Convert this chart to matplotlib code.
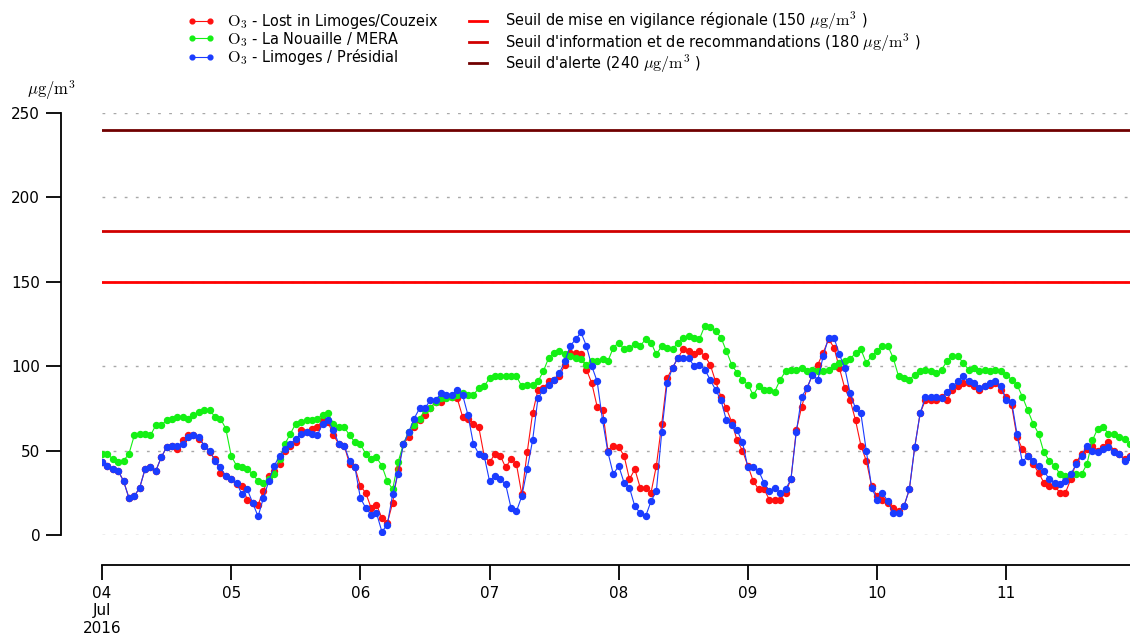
#!/usr/bin/env python3
"""Hourly O3 concentrations around Limoges, 4-11 July 2016, with alert thresholds."""

import matplotlib

matplotlib.use("Agg")
import matplotlib.dates as mdates
import matplotlib.pyplot as plt
import pandas as pd

START = "2016-07-04 00:00"
N_HOURS = 192

# hourly values (µg/m3), one row per day
lost_limoges = [
    43, 41, 39, 38, 32, 22, 23, 28, 39, 40, 38, 46, 52, 53, 51, 56, 59, 59, 57, 53, 49, 45, 37, 35,
    33, 30, 29, 21, 19, 18, 26, 35, 38, 42, 50, 53, 55, 62, 61, 63, 64, 68, 67, 59, 54, 53, 42, 40,
    29, 25, 16, 18, 10, 7, 19, 39, 54, 58, 64, 68, 71, 75, 79, 79, 82, 82, 81, 70, 69, 66, 64, 47,
    43, 48, 47, 40, 45, 42, 24, 49, 72, 86, 87, 91, 92, 94, 101, 108, 108, 107, 98, 90, 76, 74, 50, 53,
    52, 47, 33, 39, 28, 28, 25, 41, 66, 93, 99, 105, 110, 109, 107, 109, 106, 101, 91, 82, 75, 67, 56, 50,
    41, 32, 27, 27, 21, 21, 21, 25, 33, 62, 76, 87, 95, 101, 108, 116, 111, 99, 87, 80, 68, 53, 44, 29,
    23, 21, 19, 16, 14, 17, 27, 52, 72, 80, 80, 80, 82, 80, 86, 88, 90, 90, 88, 86, 88, 89, 90, 86,
    82, 77, 58, 51, 47, 42, 37, 31, 29, 29, 25, 25, 33, 43, 48, 51, 53, 50, 52, 55, 50, 48, 45, 47,
]
la_nouaille = [
    48, 48, 45, 43, 44, 48, 59, 60, 60, 59, 65, 65, 68, 69, 70, 70, 69, 71, 73, 74, 74, 70, 69, 63,
    47, 41, 40, 39, 36, 32, 31, 33, 36, 45, 54, 60, 66, 67, 68, 68, 69, 71, 72, 66, 64, 64, 59, 55,
    54, 48, 45, 46, 41, 32, 27, 43, 54, 61, 65, 69, 74, 75, 79, 81, 81, 82, 83, 84, 83, 83, 87, 88,
    93, 94, 94, 94, 94, 94, 88, 89, 89, 91, 97, 105, 108, 109, 107, 106, 105, 104, 101, 103, 103, 104, 103, 111,
    114, 110, 111, 113, 112, 116, 114, 107, 112, 111, 110, 114, 117, 118, 117, 116, 124, 123, 121, 117, 109, 101, 96, 92,
    89, 83, 88, 86, 86, 85, 92, 97, 98, 98, 99, 97, 98, 97, 97, 98, 100, 102, 103, 104, 108, 110, 102, 106,
    109, 112, 112, 105, 94, 93, 92, 95, 97, 98, 97, 96, 98, 103, 106, 106, 102, 98, 99, 97, 98, 97, 98, 97,
    95, 92, 89, 82, 74, 66, 60, 49, 44, 41, 36, 35, 36, 36, 36, 42, 56, 63, 64, 60, 60, 58, 57, 54,
]
limoges_presidial = [
    43, 41, 39, 38, 32, 22, 23, 28, 39, 40, 38, 46, 52, 53, 53, 54, 58, 59, 58, 53, 50, 44, 40, 35,
    33, 31, 24, 27, 19, 11, 22, 32, 41, 47, 51, 54, 57, 60, 61, 60, 59, 66, 68, 62, 54, 53, 44, 40,
    22, 16, 12, 13, 2, 6, 24, 36, 54, 61, 69, 75, 75, 80, 80, 84, 83, 83, 86, 83, 71, 54, 48, 47,
    32, 35, 33, 30, 16, 14, 23, 39, 56, 81, 86, 89, 92, 96, 103, 112, 116, 120, 112, 100, 91, 68, 49, 36,
    41, 31, 28, 17, 13, 11, 20, 26, 61, 90, 99, 105, 105, 105, 100, 101, 98, 92, 86, 80, 68, 65, 62, 55,
    40, 40, 38, 31, 26, 28, 25, 27, 33, 61, 82, 87, 95, 92, 106, 117, 117, 107, 99, 84, 75, 72, 50, 28,
    21, 25, 20, 13, 13, 17, 27, 52, 72, 82, 82, 82, 81, 85, 88, 91, 94, 91, 90, 87, 88, 90, 91, 88,
    80, 79, 60, 43, 47, 44, 41, 38, 33, 31, 30, 32, 36, 42, 47, 53, 50, 49, 51, 52, 49, 48, 44, 46,
]

series_labels = [
    r"$\mathrm{O_3}$ - Lost in Limoges/Couzeix",
    r"$\mathrm{O_3}$ - La Nouaille / MERA",
    r"$\mathrm{O_3}$ - Limoges / Présidial",
]
series_colors = ["#ff1010", "#14f014", "#1a3cff"]

threshold_values = [150, 180, 240]
threshold_labels = [
    r"Seuil de mise en vigilance régionale (150 $\mu\mathrm{g/m}^3$ )",
    r"Seuil d'information et de recommandations (180 $\mu\mathrm{g/m}^3$ )",
    r"Seuil d'alerte (240 $\mu\mathrm{g/m}^3$ )",
]
threshold_colors = ["#ff0000", "#d00000", "#700000"]

y_ticks = [0, 50, 100, 150, 200, 250]
x_tick_labels = ["04\nJul\n2016", "05", "06", "07", "08", "09", "10", "11"]


def main() -> None:
    plt.rcParams["font.family"] = ["DejaVu Sans"]
    plt.rcParams["mathtext.fontset"] = "cm"

    times = pd.date_range(START, periods=N_HOURS, freq="h")
    days = pd.date_range(START, periods=len(x_tick_labels), freq="D")

    fig = plt.figure(figsize=(11.3, 6.33), dpi=100)
    ax = fig.add_axes([102 / 1130, 1 - 535 / 633, 1 - 102 / 1130, (535 - 113) / 633])

    for y in y_ticks:
        ax.axhline(y, color="#a8a8a8", lw=1.0, ls=(0, (2, 6)), zorder=0)

    thr_handles = []
    for v, lab, c in zip(threshold_values, threshold_labels, threshold_colors):
        (h,) = ax.plot([times[0], times[-1]], [v, v], color=c, lw=2, label=lab, zorder=1)
        thr_handles.append(h)

    ser_handles = []
    for vals, lab, c in zip([lost_limoges, la_nouaille, limoges_presidial], series_labels, series_colors):
        (h,) = ax.plot(times, vals, color=c, lw=0.8, marker="o", ms=4.3, mec=c, label=lab, zorder=2)
        ser_handles.append(h)

    ax.set_xlim(times[0], times[-1])
    ax.set_ylim(0, 250)
    ax.set_yticks(y_ticks)
    ax.set_xticks(days)
    ax.xaxis.set_major_formatter(mdates.DateFormatter("%d"))
    ax.set_xticklabels(x_tick_labels)

    for side in ("top", "right"):
        ax.spines[side].set_visible(False)
    ax.spines["left"].set_position(("outward", 41 * 0.72))
    ax.spines["bottom"].set_position(("outward", 30 * 0.72))
    ax.spines["left"].set_bounds(0, 250)
    for side in ("left", "bottom"):
        ax.spines[side].set_linewidth(1.3)
    ax.tick_params(direction="out", length=11, width=1.3, labelsize=11, pad=4)

    ax.text(-0.073, 1.055, r"$\mu\mathrm{g/m}^3$", transform=ax.transAxes, fontsize=12, ha="left", va="center")

    fig.legend(
        ser_handles + thr_handles,
        series_labels + threshold_labels,
        loc="upper left",
        bbox_to_anchor=(187 / 1130, 1 - 10 / 633),
        ncol=2,
        frameon=False,
        borderpad=0,
        borderaxespad=0,
        handlelength=1.7,
        handletextpad=0.8,
        columnspacing=1.6,
        labelspacing=-0.08,
        numpoints=2,
        markerscale=0.8,
        prop={"family": "DejaVu Sans", "stretch": "condensed", "size": 11.6},
    )

    fig.savefig("out.png", dpi=100)
    plt.close(fig)


if __name__ == "__main__":
    main()
